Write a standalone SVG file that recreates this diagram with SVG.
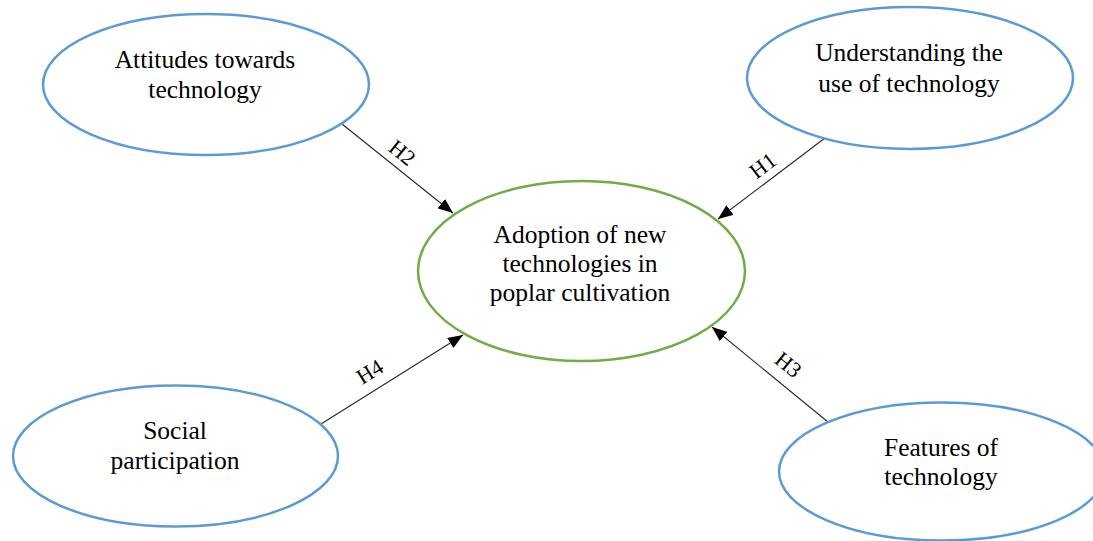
<svg xmlns="http://www.w3.org/2000/svg" width="1093" height="541" viewBox="0 0 1093 541">
  <style>
    .node-blue { fill: #ffffff; stroke: #5B9BD5; stroke-width: 2.5; }
    .node-green { fill: #ffffff; stroke: #70AD47; stroke-width: 2.5; }
    .label { font-family: "Liberation Serif", "Times New Roman", serif; font-size: 25.5px; fill: #000000; text-anchor: middle; }
    .hlabel { font-family: "Liberation Serif", "Times New Roman", serif; font-size: 22px; fill: #000000; text-anchor: middle; }
    .edge { stroke: #262626; stroke-width: 1.1; fill: none; marker-end: url(#arrow); }
  </style>
  <defs>
    <marker id="arrow" markerUnits="userSpaceOnUse" markerWidth="16" markerHeight="12" refX="15" refY="6" orient="auto">
      <path d="M0,0 L15,6 L0,12 Z" fill="#000000"/>
    </marker>
  </defs>
  <rect width="1093" height="541" fill="#ffffff"/>

  <g id="connectors">
    <line class="edge" x1="342" y1="124" x2="453" y2="213"/>
    <line class="edge" x1="825" y1="138" x2="718" y2="219"/>
    <line class="edge" x1="321" y1="424" x2="463" y2="335"/>
    <line class="edge" x1="828" y1="422" x2="712" y2="327"/>
    <g transform="translate(402,153) rotate(39)"><text class="hlabel" x="0" y="7">H2</text></g>
    <g transform="translate(763,166) rotate(-37)"><text class="hlabel" x="0" y="7">H1</text></g>
    <g transform="translate(370,372) rotate(-32)"><text class="hlabel" x="0" y="7">H4</text></g>
    <g transform="translate(788,365) rotate(39)"><text class="hlabel" x="0" y="7">H3</text></g>
  </g>

  <g id="node-attitudes">
    <ellipse class="node-blue" cx="206" cy="84.5" rx="163" ry="70.5"/>
    <text class="label" x="205" y="68">Attitudes towards</text>
    <text class="label" x="205" y="98">technology</text>
  </g>

  <g id="node-understanding">
    <ellipse class="node-blue" cx="910" cy="78" rx="163" ry="71"/>
    <text class="label" x="909" y="61">Understanding the</text>
    <text class="label" x="909" y="92">use of technology</text>
  </g>

  <g id="node-adoption">
    <ellipse class="node-green" cx="581.5" cy="271" rx="163.5" ry="90"/>
    <text class="label" x="580" y="243">Adoption of new</text>
    <text class="label" x="580" y="272">technologies in</text>
    <text class="label" x="580" y="301">poplar cultivation</text>
  </g>

  <g id="node-social">
    <ellipse class="node-blue" cx="175.5" cy="456" rx="162.5" ry="70.5"/>
    <text class="label" x="175" y="439">Social</text>
    <text class="label" x="175" y="469">participation</text>
  </g>

  <g id="node-features">
    <ellipse class="node-blue" cx="942" cy="471.5" rx="163" ry="69"/>
    <text class="label" x="941" y="456">Features of</text>
    <text class="label" x="941" y="485">technology</text>
  </g>
</svg>
